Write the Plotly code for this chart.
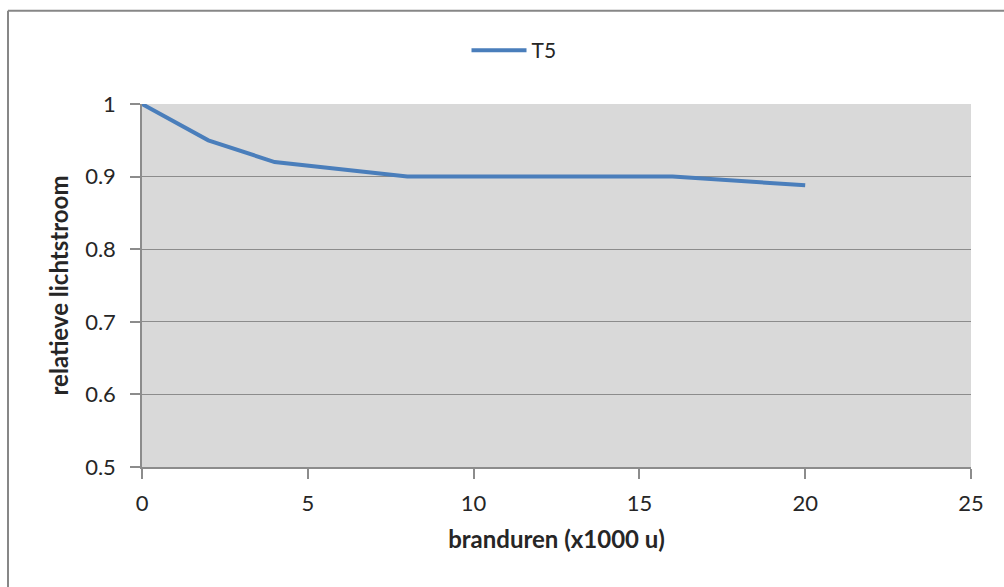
import plotly.graph_objects as go

hours_k = [0, 2, 4, 8, 12, 16, 20]
rel_flux = [1.0, 0.95, 0.92, 0.90, 0.90, 0.90, 0.888]
series_name = "T5"
x_ticks = [0, 5, 10, 15, 20, 25]
y_ticks = [0.5, 0.6, 0.7, 0.8, 0.9, 1.0]
y_tick_text = ["0.5", "0.6", "0.7", "0.8", "0.9", "1"]

W, H = 1004, 587
L, R, T, B = 142, 33, 103.5, 120
pw, ph = W - L - R, H - T - B

fig = go.Figure()
fig.add_trace(go.Scatter(x=hours_k, y=rel_flux, mode="lines", name=series_name,
                         line=dict(color="#4a7ebb", width=4)))

font = "Lato, 'Open Sans', sans-serif"
grid = "#8c8c8c"
fig.update_layout(
    width=W, height=H,
    margin=dict(l=L, r=R, t=T, b=B, autoexpand=False),
    paper_bgcolor="white", plot_bgcolor="#d9d9d9",
    font=dict(family=font, size=22, color="#262626"),
    showlegend=True,
    legend=dict(orientation="h", x=(514 - L) / pw, xanchor="center",
                y=(H - B - 50) / ph, yanchor="middle",
                font=dict(size=21), itemwidth=55, bgcolor="rgba(0,0,0,0)"),
    xaxis=dict(range=[0, 25], tickvals=x_ticks, showgrid=False,
               showline=True, linecolor=grid, linewidth=1.5,
               ticks="outside", ticklen=10, tickcolor=grid, tickwidth=1.5,
               ticklabelstandoff=6, zeroline=False,
               title=dict(text="<b>branduren (x1000 u)</b>", font=dict(size=24), standoff=16)),
    yaxis=dict(range=[0.5, 1.0], tickvals=y_ticks, ticktext=y_tick_text,
               showgrid=True, gridcolor=grid, gridwidth=1.2,
               showline=True, linecolor=grid, linewidth=1.5,
               ticks="outside", ticklen=10, tickcolor=grid, tickwidth=1.5,
               ticklabelstandoff=10, zeroline=False,
               title=dict(text="<b>relatieve lichtstroom</b>", font=dict(size=24), standoff=10)),
)

# outer chart border (top and left visible)
bx0 = (8 - L) / pw
by1 = (H - B - 10) / ph
fig.add_shape(type="line", xref="paper", yref="paper", x0=bx0, x1=bx0, y0=by1, y1=-2,
              line=dict(color="#878787", width=2))
fig.add_shape(type="line", xref="paper", yref="paper", x0=bx0, x1=2, y0=by1, y1=by1,
              line=dict(color="#878787", width=2))

fig.write_html("out.html")
